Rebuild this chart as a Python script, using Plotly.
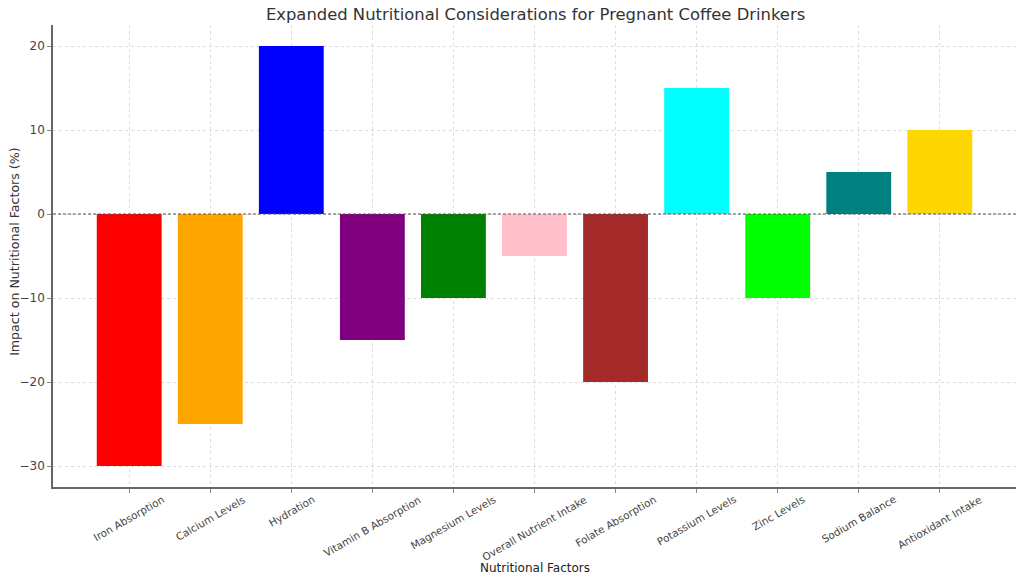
import plotly.graph_objects as go

categories = ["Iron Absorption", "Calcium Levels", "Hydration", "Vitamin B Absorption",
              "Magnesium Levels", "Overall Nutrient Intake", "Folate Absorption",
              "Potassium Levels", "Zinc Levels", "Sodium Balance", "Antioxidant Intake"]
impact = [-30, -25, 20, -15, -10, -5, -20, 15, -10, 5, 10]
colors = ["red", "orange", "blue", "purple", "green", "pink", "brown",
          "cyan", "lime", "teal", "gold"]
y_ticks = [-30, -20, -10, 0, 10, 20]

font = "DejaVu Sans"
fig = go.Figure()
fig.add_trace(go.Bar(x=list(range(len(categories))), y=impact, marker_color=colors,
                     marker_line_width=0, width=0.8))
fig.add_hline(y=0, line=dict(color="#555555", width=1, dash="3px,2px"))

for i, c in enumerate(categories):
    fig.add_annotation(x=i, xref="x", y=-0.007, yref="paper", text=c, showarrow=False,
                       textangle=-30, xanchor="center", yanchor="top",
                       font=dict(family=font, size=10.4, color="#444444"))

fig.add_annotation(x=0.5, xref="paper", y=-0.155, yref="paper", text="Nutritional Factors",
                   showarrow=False, xanchor="center", yanchor="top",
                   font=dict(family=font, size=12, color="#222222"))
fig.add_annotation(x=-0.04, xref="paper", y=0.51, yref="paper",
                   text="Impact on Nutritional Factors (%)", showarrow=False,
                   textangle=-90, xanchor="center", yanchor="middle",
                   font=dict(family=font, size=12.6, color="#333333"))

fig.update_layout(
    width=1024, height=582,
    margin=dict(l=53, r=8, t=25, b=95, autoexpand=False),
    plot_bgcolor="white", paper_bgcolor="white",
    title=dict(text="Expanded Nutritional Considerations for Pregnant Coffee Drinkers",
               x=0.523, xanchor="center", y=0.986, yanchor="top",
               font=dict(family=font, size=16.4, color="#333333")),
    showlegend=False,
    font=dict(family=font, color="#333333"),
)
fig.update_xaxes(
    range=[-0.94, 10.94], tickvals=list(range(len(categories))), showticklabels=False,
    automargin=False,
    showgrid=True, gridcolor="#dcdcdc", griddash="dot", gridwidth=1,
    showline=True, linecolor="#666666", linewidth=1.5,
    ticks="outside", ticklen=4, tickcolor="#888888",
    zeroline=False,
)
fig.update_yaxes(
    range=[-32.5, 22.5], tickvals=y_ticks, tickfont=dict(size=12, color="#444444"),
    automargin=False,
    showgrid=True, gridcolor="#dcdcdc", griddash="dot", gridwidth=1,
    showline=True, linecolor="#666666", linewidth=1.5,
    ticks="outside", ticklen=4, tickcolor="#888888",
    zeroline=False,
)
fig.write_html("out.html", config={"displayModeBar": False},
               post_script="document.body.style.margin='0';")
